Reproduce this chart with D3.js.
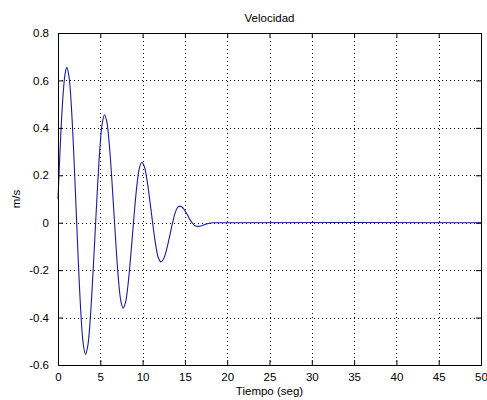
<!DOCTYPE html>
<html><head><meta charset="utf-8">
<script src="https://cdn.jsdelivr.net/npm/d3@7"></script>
<style>body{margin:0;background:#fff}svg{display:block}text{font-family:"Liberation Sans",Arial,sans-serif;fill:#000}</style>
</head><body><svg id="c" width="487" height="400"></svg>
<script>
const title = "Velocidad";
const xLabel = "Tiempo (seg)";
const yLabel = "m/s";
const xTicks = [0,5,10,15,20,25,30,35,40,45,50];
const yTicks = [-0.6,-0.4,-0.2,0,0.2,0.4,0.6,0.8];
const yTickLabels = ["-0.6","-0.4","-0.2","0","0.2","0.4","0.6","0.8"];
const time = [0,0.3,0.6,0.85,1.05,1.325,1.6,1.875,2.15,2.425,2.7,2.975,3.25,3.53,3.81,4.09,4.375,4.66,4.94,5.22,5.5,5.775,6.05,6.325,6.6,6.875,7.15,7.425,7.7,7.975,8.25,8.525,8.8,9.075,9.35,9.625,9.9,10.18,10.46,10.74,11.025,11.31,11.59,11.87,12.15,12.425,12.7,12.975,13.25,13.525,13.8,14.075,14.35,14.61,14.86,15.12,15.375,15.63,15.89,16.14,16.4,17.0,17.5,18.0,18.5,50];
const velocity = [0.10,0.35,0.54,0.63,0.655,0.609,0.478,0.282,0.05,-0.182,-0.378,-0.509,-0.555,-0.517,-0.407,-0.243,-0.05,0.143,0.307,0.417,0.455,0.424,0.336,0.203,0.048,-0.108,-0.241,-0.329,-0.36,-0.337,-0.27,-0.17,-0.053,0.065,0.165,0.231,0.255,0.239,0.193,0.125,0.045,-0.035,-0.103,-0.149,-0.165,-0.156,-0.131,-0.092,-0.048,-0.003,0.036,0.061,0.07,0.067,0.058,0.044,0.028,0.011,-0.002,-0.012,-0.015,-0.013,-0.006,-0.001,0,0];

const svg = d3.select("#c");
const L=58,R=481,T=33,B=365;
const x = d3.scaleLinear().domain([0,50]).range([L,R]);
const y = d3.scaleLinear().domain([-0.6,0.8]).range([B,T]);

// grid
const g = svg.append("g");
g.selectAll(".gx").data(xTicks.slice(1,-1)).enter().append("line")
 .attr("x1",d=>Math.round(x(d))+0.5).attr("x2",d=>Math.round(x(d))+0.5).attr("y1",T).attr("y2",B)
 .attr("stroke","#000").attr("stroke-width",1).attr("stroke-dasharray","1,3");
g.selectAll(".gy").data(yTicks.slice(1,-1)).enter().append("line")
 .attr("y1",d=>Math.round(y(d))+0.5).attr("y2",d=>Math.round(y(d))+0.5).attr("x1",L).attr("x2",R)
 .attr("stroke","#000").attr("stroke-width",1).attr("stroke-dasharray","1,3");

// curve
const pts = time.map((t,i)=>[t,velocity[i]]);
svg.append("path").datum(pts)
 .attr("d", d3.line().x(d=>x(d[0])).y(d=>y(d[1])).curve(d3.curveCatmullRom))
 .attr("fill","none").attr("stroke","#1a1aa6").attr("stroke-width",1.1);

// axes
const ax = d3.axisBottom(x).tickValues(xTicks).tickSize(-5).tickPadding(8).tickFormat(d3.format("d"));
const axT = d3.axisTop(x).tickValues(xTicks).tickSize(-5).tickFormat("");
const ay = d3.axisLeft(y).tickValues(yTicks).tickSize(-5).tickPadding(9).tickFormat((d,i)=>yTickLabels[i]);
const ayR = d3.axisRight(y).tickValues(yTicks).tickSize(-5).tickFormat("");
function style(sel){sel.select(".domain").remove();sel.selectAll("line").attr("stroke","#000");sel.selectAll("text").attr("font-size","11.5px").attr("fill","#000").attr("font-family","\"Liberation Sans\",Arial,sans-serif");}
svg.append("g").attr("transform",`translate(0,${B})`).call(ax).call(style);
svg.append("g").attr("transform",`translate(0,${T})`).call(axT).call(style);
svg.append("g").attr("transform",`translate(${L},0)`).call(ay).call(style);
svg.append("g").attr("transform",`translate(${R},0)`).call(ayR).call(style);
svg.append("rect").attr("x",L+0.5).attr("y",T+0.5).attr("width",R-L).attr("height",B-T)
 .attr("fill","none").attr("stroke","#000").attr("stroke-width",1);

svg.append("text").attr("x",(L+R)/2).attr("y",22).attr("text-anchor","middle").attr("font-size","11.5px").text(title);
svg.append("text").attr("x",(L+R)/2).attr("y",395).attr("text-anchor","middle").attr("font-size","11.5px").text(xLabel);
svg.append("text").attr("transform",`translate(20,${(T+B)/2}) rotate(-90)`).attr("text-anchor","middle").attr("font-size","11.5px").text(yLabel);
</script></body></html>
